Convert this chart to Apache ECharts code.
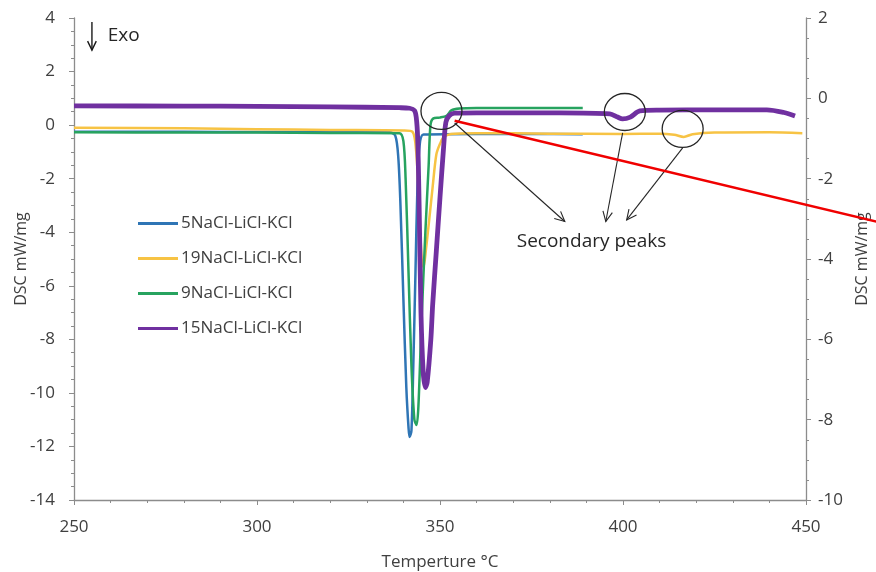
<!DOCTYPE html>
<html>
<head>
<meta charset="utf-8">
<script src="https://cdn.jsdelivr.net/npm/echarts@6/dist/echarts.min.js"></script>
<style>
  html, body { margin: 0; padding: 0; background: #ffffff; }
  #chart { width: 876px; height: 572px; }
</style>
</head>
<body>
<div id="chart"></div>
<script>
// DSC curves of NaCl-LiCl-KCl salt mixtures: temperature (°C) and heat flow (mW/mg)
const seriesNames = ['5NaCl-LiCl-KCl', '19NaCl-LiCl-KCl', '9NaCl-LiCl-KCl', '15NaCl-LiCl-KCl'];

const temp5 = [250, 280, 300, 320, 336.2, 337.8, 338.6, 339.2, 340.0, 340.8, 341.4, 341.7, 342.2, 342.7, 343.3, 343.8, 344.4, 345.5, 360, 375, 389];
const dsc5  = [-0.25, -0.25, -0.26, -0.26, -0.27, -0.4, -1.2, -3.0, -6.5, -9.8, -11.3, -11.65, -11.4, -9.0, -5.5, -2.5, -0.8, -0.35, -0.33, -0.33, -0.34];

const temp19 = [250, 280, 300, 320, 340, 342.5, 343.5, 344.3, 345.0, 345.5, 346.2, 347.0, 348.0, 349.0, 350.0, 351.0, 353.0, 360, 380, 400, 410, 414, 416.6, 419, 425, 440, 449];
const dsc19  = [-0.1, -0.12, -0.15, -0.18, -0.2, -0.25, -1.0, -3.0, -5.0, -5.3, -4.6, -3.6, -2.3, -1.1, -0.7, -0.45, -0.33, -0.3, -0.32, -0.33, -0.32, -0.36, -0.44, -0.34, -0.28, -0.27, -0.3];

const temp9 = [250, 280, 300, 320, 338.9, 340.0, 340.6, 341.4, 342.2, 343.0, 343.6, 344.1, 344.9, 346.0, 346.9, 347.4, 348.2, 349.9, 351.8, 353.1, 355.3, 360, 375, 389];
const dsc9  = [-0.27, -0.28, -0.28, -0.29, -0.3, -0.6, -2.0, -5.5, -9.0, -11.0, -11.2, -10.5, -7.5, -4.0, -1.5, 0.0, 0.25, 0.28, 0.35, 0.55, 0.62, 0.64, 0.64, 0.64];

const temp15 = [250, 280, 300, 320, 338.9, 341.7, 343.0, 343.5, 343.9, 344.3, 344.8, 345.4, 346.0, 346.5, 347.5, 348.0, 349.0, 350.0, 351.0, 351.6, 352.5, 354.0, 360, 382.7, 396.4, 398.5, 399.9, 402.0, 404.6, 410, 425, 439.3, 444, 447];
const dsc15  = [0.72, 0.71, 0.7, 0.68, 0.65, 0.63, 0.55, 0.3, -0.5, -3.0, -7.0, -9.2, -9.8, -9.6, -8.0, -6.7, -4.7, -2.7, -0.8, 0.1, 0.35, 0.45, 0.46, 0.46, 0.42, 0.3, 0.23, 0.3, 0.53, 0.56, 0.57, 0.57, 0.47, 0.34];

const seriesColors = ['#2F75B5', '#F7C344', '#27A35F', '#7030A0'];
const seriesWidths = [2.5, 2.5, 2.5, 4.8];

const xTicks = { min: 250, max: 450, step: 50 };
const yLeftTicks = { min: -14, max: 4, step: 2 };
const yRightTicks = { min: -10, max: 2, step: 2 };

// annotation anchors in data space (temperature, left-axis mW/mg)
const peakCircles = [[350.4, 0.53], [400.5, 0.49], [416.3, -0.14]];
const arrowStarts = [[354.0, 0.08], [399.9, -0.29], [416.3, -0.85]];
const arrowEnds   = [[384.1, -3.6], [395.3, -3.6], [401.0, -3.54]];
const labelAnchor = [391.4, -4.36];
const redLine     = [[354.0, 0.16], [469.2, -3.6]];
const exoArrow    = [[254.9, 3.85], [254.9, 2.8]];
const exoText     = [259.2, 3.33];

const zip = (a, b) => a.map((t, i) => [t, b[i]]);
const seriesData = [zip(temp5, dsc5), zip(temp19, dsc19), zip(temp9, dsc9), zip(temp15, dsc15)];

const FONT = 'Open Sans';
const axisGrey = '#8C8C8C';
const textGrey = '#404040';

const chart = echarts.init(document.getElementById('chart'), null, { renderer: 'canvas' });

const yAxisCommon = {
  type: 'value',
  axisLine: { show: true, lineStyle: { color: axisGrey, width: 1.3 } },
  axisTick: { show: true, length: 5, lineStyle: { color: axisGrey } },
  minorTick: { show: true, splitNumber: 4, length: 3, lineStyle: { color: axisGrey } },
  splitLine: { show: false },
  axisLabel: { color: textGrey, fontFamily: FONT, fontSize: 17 },
  nameLocation: 'middle',
  nameMoveOverlap: false,
  nameTextStyle: { color: textGrey, fontFamily: FONT, fontSize: 16 }
};

// draw order: yellow, blue, green, purple on top
const order = [1, 0, 2, 3];

chart.setOption({
  animation: false,
  backgroundColor: '#ffffff',
  grid: { left: 74, right: 70, top: 18, bottom: 72, containLabel: false, outerBoundsMode: 'none' },
  legend: {
    orient: 'vertical',
    left: 133, top: 210,
    itemGap: 18, itemWidth: 40, itemHeight: 3,
    icon: 'rect',
    textStyle: { color: textGrey, fontFamily: FONT, fontSize: 17, padding: [0, 0, 0, -2] },
    data: seriesNames
  },
  xAxis: {
    type: 'value',
    min: xTicks.min, max: xTicks.max, interval: xTicks.step,
    axisLine: { show: true, onZero: false, lineStyle: { color: axisGrey, width: 1.3 } },
    axisTick: { show: true, length: 5, lineStyle: { color: axisGrey } },
    minorTick: { show: true, splitNumber: 5, length: 3, lineStyle: { color: axisGrey } },
    splitLine: { show: false },
    axisLabel: { color: textGrey, fontFamily: FONT, fontSize: 17, margin: 19 },
    name: 'Temperture °C',
    nameLocation: 'middle', nameGap: 54,
    nameMoveOverlap: false,
    nameTextStyle: { color: textGrey, fontFamily: FONT, fontSize: 17 }
  },
  yAxis: [
    Object.assign({}, yAxisCommon, {
      position: 'left',
      min: yLeftTicks.min, max: yLeftTicks.max, interval: yLeftTicks.step,
      axisLabel: Object.assign({}, yAxisCommon.axisLabel, { margin: 19 }),
      name: 'DSC mW/mg', nameGap: 45, nameRotate: 90
    }),
    Object.assign({}, yAxisCommon, {
      position: 'right',
      min: yRightTicks.min, max: yRightTicks.max, interval: yRightTicks.step,
      axisLabel: Object.assign({}, yAxisCommon.axisLabel, { margin: 12 }),
      name: 'DSC mW/mg', nameGap: 48, nameRotate: 90
    })
  ],
  series: order.map(i => ({
    name: seriesNames[i],
    type: 'line',
    yAxisIndex: 0,
    data: seriesData[i],
    showSymbol: false,
    smooth: 0.3,
    color: seriesColors[i],
    lineStyle: { color: seriesColors[i], width: seriesWidths[i] },
    z: 2 + i
  }))
});

// annotations positioned from data coordinates
const px = p => chart.convertToPixel({ xAxisIndex: 0, yAxisIndex: 0 }, p);

function arrowHead(from, to, size) {
  const dx = to[0] - from[0], dy = to[1] - from[1];
  const len = Math.hypot(dx, dy);
  const ux = dx / len, uy = dy / len;
  const a = Math.PI / 7;
  const p1 = [to[0] - size * (ux * Math.cos(a) - uy * Math.sin(a)), to[1] - size * (uy * Math.cos(a) + ux * Math.sin(a))];
  const p2 = [to[0] - size * (ux * Math.cos(a) + uy * Math.sin(a)), to[1] - size * (uy * Math.cos(a) - ux * Math.sin(a))];
  return [p1, to, p2];
}

const gfx = [];
peakCircles.forEach(c => {
  const p = px(c);
  gfx.push({ type: 'ellipse', shape: { cx: p[0], cy: p[1], rx: 20.5, ry: 18.5 },
    style: { fill: 'none', stroke: '#262626', lineWidth: 1.3 }, z: 50 });
});
arrowStarts.forEach((s, i) => {
  const a = px(s), b = px(arrowEnds[i]);
  gfx.push({ type: 'line', shape: { x1: a[0], y1: a[1], x2: b[0], y2: b[1] },
    style: { stroke: '#262626', lineWidth: 1.1 }, z: 50 });
  gfx.push({ type: 'polyline', shape: { points: arrowHead(a, b, 11) },
    style: { stroke: '#262626', lineWidth: 1.1, fill: 'none' }, z: 50 });
});
const lp = px(labelAnchor);
gfx.push({ type: 'text', x: lp[0], y: lp[1], z: 50,
  style: { text: 'Secondary peaks', fill: '#262626', font: '19px "' + FONT + '"', align: 'center', verticalAlign: 'middle' } });
const r0 = px(redLine[0]), r1 = px(redLine[1]);
gfx.push({ type: 'line', shape: { x1: r0[0], y1: r0[1], x2: r1[0], y2: r1[1] },
  style: { stroke: '#F00000', lineWidth: 2.5 }, z: 60 });
const e0 = px(exoArrow[0]), e1 = px(exoArrow[1]);
gfx.push({ type: 'line', shape: { x1: e0[0], y1: e0[1], x2: e1[0], y2: e1[1] },
  style: { stroke: '#1a1a1a', lineWidth: 1.4 }, z: 50 });
gfx.push({ type: 'polyline', shape: { points: arrowHead(e0, e1, 10) },
  style: { stroke: '#1a1a1a', lineWidth: 1.4, fill: 'none' }, z: 50 });
const et = px(exoText);
gfx.push({ type: 'text', x: et[0], y: et[1], z: 50,
  style: { text: 'Exo', fill: '#262626', font: '19px "' + FONT + '"', align: 'left', verticalAlign: 'middle' } });

chart.setOption({ graphic: gfx });
</script>
</body>
</html>
